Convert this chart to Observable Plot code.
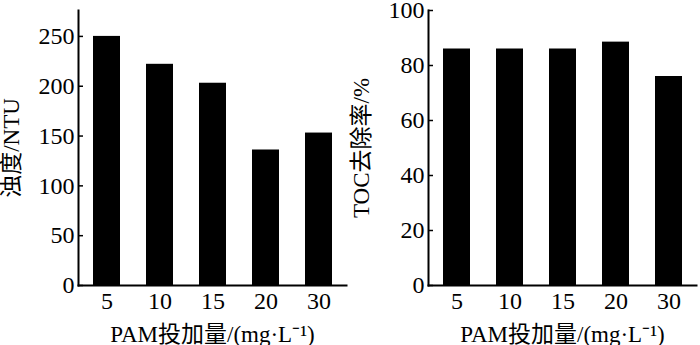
<!DOCTYPE html>
<html><head><meta charset="utf-8">
<script src="https://cdn.jsdelivr.net/npm/d3@7"></script>
<script src="https://cdn.jsdelivr.net/npm/@observablehq/plot@0.6"></script>
<style>
html,body{margin:0;padding:0;background:#fff;}
#wrap{display:flex;width:700px;height:345px;}
svg{overflow:visible;}
</style>
</head><body><div id="wrap"></div>
<script>
const doses = ["5", "10", "15", "20", "30"];
const turbidity = [250, 222, 203, 136, 153];
const tocRemoval = [86, 86, 86, 88.5, 76];
const turbTicks = [0, 50, 100, 150, 200, 250];
const tocTicks = [0, 20, 40, 60, 80, 100];
const xLabel = "PAM投加量/(mg·L⁻¹)";

function panel(values, domain, ticks, yLabel, shift) {
  const data = doses.map((d, i) => ({dose: d, v: values[i]}));
  return Plot.plot({
    width: 350, height: 345,
    marginLeft: 78, marginRight: 4, marginTop: 10, marginBottom: 60,
    style: {fontFamily: "'Liberation Serif', 'Noto Sans CJK SC', serif", fontSize: "23px", color: "#000", background: "#fff", overflow: "visible"},
    x: {domain: doses, paddingInner: 0.5, paddingOuter: 0.25},
    y: {domain: domain},
    marks: [
      Plot.barY(data, {x: "dose", y: "v", fill: "#000"}),
      Plot.axisY({ticks: ticks, tickSize: 0, tickPadding: 4, fontSize: 24, label: null}),
      Plot.axisY({ticks: ticks, tickSize: 5, dx: 5, strokeWidth: 1.5, tickFormat: () => "", label: null}),
      Plot.axisY({ticks: [], tickSize: 0, dy: shift, label: yLabel, labelAnchor: "center", labelArrow: "none", labelOffset: 76}),
      Plot.axisX({tickSize: 0, tickPadding: 6, fontSize: 24, label: null}),
      Plot.axisX({ticks: [], tickSize: 0, label: xLabel, labelAnchor: "center", labelArrow: "none", labelOffset: 56}),
      Plot.frame({anchor: "left", strokeWidth: 2}),
      Plot.frame({anchor: "bottom", strokeWidth: 2})
    ]
  });
}
const wrap = document.getElementById("wrap");
wrap.appendChild(panel(turbidity, [0, 276], turbTicks, "浊度/NTU", 8));
wrap.appendChild(panel(tocRemoval, [0, 100], tocTicks, "TOC去除率/%", 6));
</script></body></html>
